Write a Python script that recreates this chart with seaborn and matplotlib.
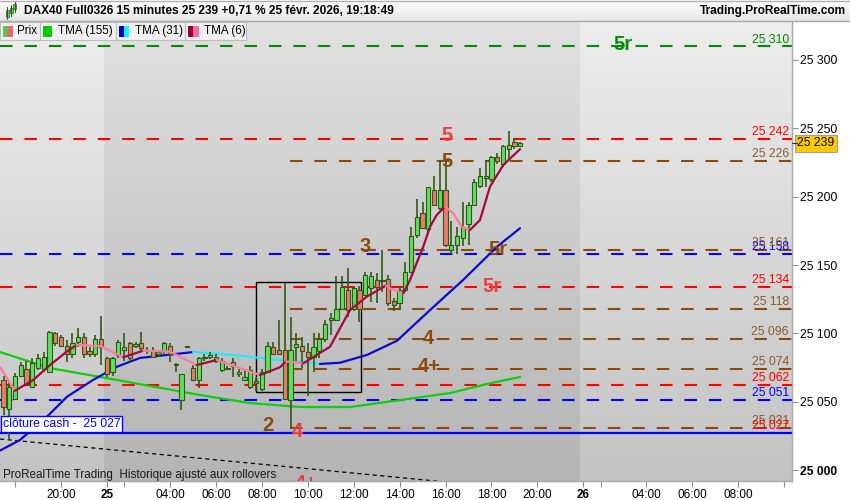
import numpy as np
import pandas as pd
import matplotlib
matplotlib.use("Agg")
import matplotlib.pyplot as plt
import matplotlib.colors as mcolors
import matplotlib.transforms as mtransforms
from matplotlib.patches import Rectangle
import seaborn as sns

# ---------------- data ----------------
bar_q = list(range(-10, 81))          # 15-minute bar index (trading time), 0 = 24 Feb 20:00
opens = [25066, 25045, 25052, 25069, 25074, 25061, 25075, 25074, 25072, 25100,
         25097, 25091, 25085, 25094, 25097, 25087, 25085, 25096,
         25082, 25072, 25084, 25088, 25093, 25091, 25093, 25088, 25088, 25085,
         25087, 25091, 25077, 25051, 25090, 25075, 25066, 25082, 25083, 25083,
         25073, 25074, 25079, 25070, 25066, 25061, 25065, 25059, 25072, 25090,
         25088, 25088, 25051, 25090, 25091, 25086, 25083, 25087, 25096, 25110,
         25110, 25118, 25132, 25118, 25132, 25128, 25133, 25139, 25138, 25140,
         25124, 25122, 25132, 25145, 25172, 25188, 25176, 25205, 25192, 25205,
         25161, 25165, 25170, 25180, 25194, 25208, 25214, 25213, 25229, 25224,
         25235, 25240, 25237]
highs = [25069, 25066, 25071, 25079, 25080, 25082, 25085, 25086, 25102, 25101,
         25099, 25095, 25100, 25104, 25100, 25090, 25099, 25113,
         25083, 25083, 25095, 25100, 25094, 25094, 25101, 25090, 25090, 25088,
         25094, 25093, 25078, 25070, 25091, 25077, 25083, 25085, 25086, 25085,
         25082, 25076, 25082, 25074, 25074, 25076, 25068, 25074, 25094, 25094,
         25110, 25137, 25112, 25100, 25097, 25093, 25100, 25100, 25110, 25115,
         25142, 25142, 25148, 25134, 25135, 25145, 25145, 25144, 25161, 25143,
         25126, 25135, 25152, 25178, 25198, 25196, 25207, 25215, 25227, 25227,
         25182, 25178, 25196, 25196, 25213, 25221, 25227, 25230, 25232, 25238,
         25248, 25243, 25240]
lows = [25040, 25022, 25051, 25068, 25062, 25060, 25073, 25072, 25071, 25091,
        25090, 25079, 25082, 25090, 25082, 25083, 25083, 25077,
        25068, 25069, 25082, 25080, 25078, 25089, 25086, 25085, 25082, 25083,
        25084, 25079, 25072, 25044, 25089, 25065, 25060, 25080, 25081, 25078,
        25072, 25073, 25068, 25068, 25065, 25059, 25058, 25058, 25071, 25085,
        25084, 25052, 25031, 25080, 25075, 25054, 25072, 25082, 25094, 25099,
        25110, 25117, 25112, 25116, 25108, 25127, 25123, 25122, 25130, 25120,
        25116, 25117, 25130, 25144, 25170, 25176, 25174, 25193, 25190, 25163,
        25158, 25158, 25164, 25165, 25193, 25206, 25207, 25211, 25224, 25222,
        25227, 25235, 25236]
closes = [25046, 25061, 25069, 25077, 25063, 25078, 25082, 25083, 25101, 25093,
          25091, 25085, 25093, 25097, 25085, 25085, 25096, 25090,
          25070, 25082, 25094, 25090, 25082, 25092, 25089, 25087, 25083, 25086,
          25093, 25085, 25077, 25070, 25090, 25066, 25082, 25083, 25084, 25080,
          25080, 25074, 25076, 25072, 25068, 25073, 25064, 25072, 25091, 25085,
          25085, 25052, 25088, 25092, 25087, 25083, 25090, 25096, 25107, 25111,
          25118, 25134, 25117, 25133, 25118, 25143, 25142, 25134, 25139, 25122,
          25121, 25132, 25145, 25171, 25185, 25177, 25207, 25194, 25205, 25165,
          25165, 25171, 25178, 25194, 25211, 25215, 25215, 25229, 25226, 25237,
          25238, 25237, 25239]

tma155_q = [-10.61, -1.9, 6.8, 15.5, 24.2, 32.9, 41.7, 50.4, 59.1, 67.8, 73.5, 76.5, 80.0]
tma155_v = [25086.3, 25074.6, 25068.1, 25061.5, 25054.9, 25049.0, 25046.1, 25046.1, 25051.2,
            25056.3, 25062.2, 25065.0, 25068.1]

tma31_q = [-10.61, -7.12, -2.42, 1.06, 5.59, 9.77, 13.78, 18.48, 23.01, 29.98, 38.17, 45.13,
           48.62, 53.32, 58.55, 64.29, 70.04, 75.96, 79.97]
tma31_v = [25014.2, 25022.0, 25039.0, 25053.6, 25065.9, 25075.6, 25082.0, 25084.2, 25086.3,
           25084.2, 25080.5, 25077.6, 25078.5, 25084.2, 25094.6, 25117.0, 25139.0, 25163.4, 25176.9]

tma6_q = [-10.61, -8.0, -4.81, -1.9, 1.01, 2.75, 6.81, 10.87, 14.35, 19.0, 23.65, 27.14, 34.68,
          38.17, 39.2, 42.2, 46.87, 50.36, 53.27, 56.6, 57.3, 59.64, 60.81, 61.98, 63.12, 64.3,
          65.46, 66.9, 68.35, 69.81, 71.26, 73.0, 74.74, 77.06, 79.97]
tma6_v = [25075.2, 25058.0, 25065.9, 25076.8, 25086.6, 25091.5, 25090.7, 25082.5, 25087.3,
          25086.6, 25076.8, 25080.5, 25069.5, 25075.2, 25079.5, 25078.0, 25090.2, 25117.1,
          25126.8, 25135.0, 25133.0, 25129.3, 25139.0, 25151.5, 25163.4, 25178.0, 25186.6,
          25192.7, 25187.8, 25178.0, 25175.6, 25182.9, 25207.3, 25223.2, 25234.7]

full_levels = [25310, 25242, 25158, 25134, 25062, 25051]
full_level_kind = ["green", "red", "blue", "red", "red", "blue"]
brown_levels = [25226, 25161, 25118, 25096, 25074, 25031]
brown_start_q = 39.9
extra_label_levels = [25027]
cash_close = 25027
last_price = 25239

trend_q = [-10.61, 63.4]
trend_v = [25022.7, 24992.7]
box_q = [33.98, 52.19]
box_v = [25057.4, 25137.4]

marks_text = ["2", "4", "3", "5r", "5r", "4", "4+", "5", "5", "5r", "4+"]
marks_q = [35.99, 41.1, 52.97, 76.05, 75.09, 63.94, 64.1, 67.17, 67.17, 97.9, 42.7]
marks_v = [25032.6, 25028.5, 25163.5, 25161.7, 25134.6, 25095.9, 25075.7, 25244.4, 25225.4,
           25311.0, 24990.0]
marks_kind = ["brown", "redtxt", "brown", "brown", "redtxt", "brown", "brown", "redtxt",
              "brown", "greentxt", "redtxt"]

y_ticks = [25000, 25050, 25100, 25150, 25200, 25250, 25300]
x_ticks_q = [-8, 0, 8, 11, 19, 27, 35, 43, 51, 59, 67, 75, 83, 91, 94, 102, 110, 118, 126]
x_tick_labels = ["", "20:00", "25", "", "04:00", "06:00", "08:00", "10:00", "12:00", "14:00",
                 "16:00", "18:00", "20:00", "26", "", "04:00", "06:00", "08:00", ""]
day_breaks_q = [7.5, 90.5]

title = "DAX40 Full0326 15 minutes 25 239 +0,71 % 25 févr. 2026, 19:18:49"
site = "Trading.ProRealTime.com"
legend_names = ["Prix", "TMA (155)", "TMA (31)", "TMA (6)"]
footer = "ProRealTime Trading  Historique ajusté aux rollovers"
cash_label = "clôture cash -  25 027"

# ---------------- style ----------------
sns.set_theme(style="white")
plt.rcParams["font.family"] = ["Liberation Sans", "DejaVu Sans"]
plt.rcParams["lines.scale_dashes"] = False

COL = {"green": "#008a00", "red": "#ff0000", "blue": "#0000ff", "brown": "#8b4a0c",
       "redtxt": "#f03c3c", "greentxt": "#078a07"}
LABEL_COL = {"green": "#008a00", "red": "#ff0000", "blue": "#0000ff", "brown": "#8b5a2b"}

W, H = 850, 500
fig = plt.figure(figsize=(W / 100, H / 100), dpi=100, facecolor="white")


def fx(px):
    return px / W


def fy(py):
    return 1 - py / H


ax = fig.add_axes([0, fy(481), fx(792), (481 - 22) / H])
XMIN, XMAX = -10.61, 127.35
YMIN, YMAX = 24991.96, 25327.8


def vgrad(top, bot, n=200):
    t = np.linspace(0, 1, n)[:, None, None]
    a = np.array(mcolors.to_rgb(top))[None, None, :]
    b = np.array(mcolors.to_rgb(bot))[None, None, :]
    return a * (1 - t) + b * t


light = vgrad("#ededed", "#c3c3c3")
dark = vgrad("#e1e1e1", "#b4b4b4")
edges = [XMIN] + day_breaks_q + [XMAX]
for i in range(len(edges) - 1):
    ax.imshow(light if i % 2 == 0 else dark, extent=[edges[i], edges[i + 1], YMIN, YMAX],
              aspect="auto", origin="upper", zorder=0, interpolation="bilinear")

DASH = (0, (9, 8.6))
for lvl, kind in zip(full_levels, full_level_kind):
    ax.hlines(lvl, XMIN, XMAX, colors=COL[kind], linestyles=[DASH], lw=1.5, zorder=1.5)
for lvl in brown_levels:
    ax.hlines(lvl, brown_start_q, XMAX, colors=COL["brown"], linestyles=[DASH], lw=1.5, zorder=1.5)
ax.axhline(cash_close, color="#0000ff", lw=1.6, zorder=1.6)

# trend line
slope = (trend_v[1] - trend_v[0]) / (trend_q[1] - trend_q[0])
tq = np.array([trend_q[0], trend_q[1] + 10])
ax.plot(tq, trend_v[0] + slope * (tq - trend_q[0]), color="black", lw=0.9,
        ls=(0, (3, 2.5)), zorder=1.7)

# box
ax.add_patch(Rectangle((box_q[0], box_v[0]), box_q[1] - box_q[0], box_v[1] - box_v[0],
                       fill=False, ec="black", lw=1.0, zorder=2))

# moving averages
sns.lineplot(x=tma155_q, y=tma155_v, ax=ax, color="#11cc11", lw=1.6, sort=False,
             estimator=None, zorder=2.5)


def dir_line(qs, vs, up_col, dn_col, lw, z):
    qs = np.asarray(qs, float)
    vs = np.asarray(vs, float)
    d = np.sign(np.diff(vs))
    for i in range(1, len(d)):
        if d[i] == 0:
            d[i] = d[i - 1]
    start = 0
    for i in range(1, len(d) + 1):
        if i == len(d) or d[i] != d[start]:
            sl = slice(start, i + 1)
            sns.lineplot(x=qs[sl], y=vs[sl], ax=ax, color=up_col if d[start] > 0 else dn_col,
                         lw=lw, sort=False, estimator=None, zorder=z)
            start = i


dir_line(tma31_q, tma31_v, "#0a0ad0", "#22e8ff", 1.6, 2.6)

# candles
df = pd.DataFrame({"q": bar_q, "o": opens, "h": highs, "l": lows, "c": closes})
up = df.c >= df.o
ax.vlines(df.q, df.l, df.h, color="#2f5a14", lw=1.2, zorder=3)
bot = np.minimum(df.o, df.c)
hgt = np.maximum((df.c - df.o).abs(), 0.5)
ax.bar(df.q, hgt, bottom=bot, width=0.74, color=np.where(up, "#5ee05e", "#ec7a70"),
       edgecolor="#2f5a14", linewidth=0.8, zorder=3.2)

dir_line(tma6_q, tma6_v, "#a0083e", "#ff7a9c", 1.6, 3.5)

# level labels
lab_x = 126.8
for lvl, kind in zip(full_levels, full_level_kind):
    ax.text(lab_x, lvl + 0.6, f"{lvl:,}".replace(",", " "), color=LABEL_COL[kind], fontsize=8.8,
            ha="right", va="bottom", zorder=4)
for lvl in brown_levels:
    ax.text(lab_x, lvl + 0.6, f"{lvl:,}".replace(",", " "), color=LABEL_COL["brown"], fontsize=8.8,
            ha="right", va="bottom", zorder=4)
for lvl in extra_label_levels:
    ax.text(lab_x, lvl + 0.6, f"{lvl:,}".replace(",", " "), color="#ff0000", fontsize=8.8,
            ha="right", va="bottom", zorder=4)

# wave marks
for t, q, v, k in zip(marks_text, marks_q, marks_v, marks_kind):
    ax.text(q, v, t, color=COL[k], fontsize=14.5, fontweight="bold", ha="center", va="center",
            zorder=4.5, clip_on=True)

# cash close label
bl = mtransforms.blended_transform_factory(ax.transAxes, ax.transData)
ax.text(3 / 792, cash_close + 2.2, cash_label, transform=bl, color="#0000ff", fontsize=8.8,
        ha="left", va="bottom", zorder=6,
        bbox=dict(boxstyle="square,pad=0.15", fc="white", ec="#0000ff", lw=1.0))

ax.text(3 / 792, 6 / 459, footer, transform=ax.transAxes, color="#1a1a1a", fontsize=8.4,
        ha="left", va="center", zorder=6)

# axes formatting
ax.set_xlim(XMIN, XMAX)
ax.set_ylim(YMIN, YMAX)
ax.yaxis.tick_right()
ax.set_yticks(y_ticks)
ax.set_yticklabels([f"{v:,}".replace(",", " ") for v in y_ticks])
ax.set_xticks(x_ticks_q)
ax.set_xticklabels(x_tick_labels)
ax.tick_params(axis="y", which="both", right=True, left=False, length=4, width=0.8,
               color="#909090", pad=2, labelsize=8.7, labelcolor="black")
ax.tick_params(axis="x", which="both", bottom=True, length=4, width=0.8, color="#909090",
               pad=2, labelsize=8.5, labelcolor="black")
for lab in ax.get_xticklabels():
    if lab.get_text() in ("25", "26"):
        lab.set_fontweight("bold")
for lab in ax.get_yticklabels():
    if lab.get_text() == "25 000":
        lab.set_fontweight("bold")
ax.set_xlabel("")
ax.set_ylabel("")
for s in ("top", "left"):
    ax.spines[s].set_visible(False)
for s in ("right", "bottom"):
    ax.spines[s].set_color("#a8a8a8")
    ax.spines[s].set_linewidth(1.0)
ax.grid(False)

# last price tag
ax.text(1.0068, last_price, f"{last_price:,}".replace(",", " "), transform=bl, fontsize=8.7,
        ha="left", va="center", color="black", zorder=7, clip_on=False,
        bbox=dict(boxstyle="square,pad=0.18", fc="#ffc800", ec="#a0a0a0", lw=0.8))
ax.plot([1.0, 1.006], [last_price, last_price], transform=bl, color="#303030", lw=0.9,
        clip_on=False, zorder=7)

# ---------------- header ----------------
hax = fig.add_axes([0, fy(21), 1, 21 / H])
hax.imshow(vgrad("#ffffff", "#e6e6e6"), extent=[0, 1, 0, 1], aspect="auto", origin="upper")
hax.set_axis_off()
fig.add_artist(plt.Line2D([0, 1], [fy(21), fy(21)], transform=fig.transFigure,
                          color="#a8a8a8", lw=1.0))
fig.add_artist(plt.Line2D([0, 1], [fy(0.5), fy(0.5)], transform=fig.transFigure,
                          color="#b0b0b0", lw=1.0))
fig.text(fx(24), fy(11), title, fontsize=8.6, fontweight="bold", ha="left", va="center",
         color="black")
fig.text(fx(846), fy(11), site, fontsize=8.6, fontweight="bold", ha="right", va="center",
         color="black")
# small candle icon
for cx, y0, y1, b0, b1 in [(7, 7, 19, 10, 17), (11, 5, 16, 8, 13), (15, 2, 12, 4, 9)]:
    fig.add_artist(plt.Line2D([fx(cx), fx(cx)], [fy(y1), fy(y0)], transform=fig.transFigure,
                              color="#2f5a14", lw=0.8))
    fig.add_artist(Rectangle((fx(cx - 1.5), fy(b1)), fx(3), b1 / H - b0 / H,
                             transform=fig.transFigure, fc="#5ee05e", ec="#2f5a14", lw=0.5))

# legend row
boxes = [(0, 39.5), (39.5, 115.5), (115.5, 184.5), (184.5, 246)]
swatches = [[("#4ccd4c", 2.7, 7.3), ("#e86a6a", 7.3, 12.7)],
            [("#00cc00", 43.3, 51.7)],
            [("#0000cc", 119, 124.2), ("#00ffff", 124.2, 129.3)],
            [("#990033", 187.7, 193.3), ("#ff6b9a", 193.3, 199)]]
text_x = [17, 58.3, 134.7, 203.7]
for (x0, x1), sw, tx, name in zip(boxes, swatches, text_x, legend_names):
    fig.add_artist(Rectangle((fx(x0), fy(40)), fx(x1 - x0), 18 / H, transform=fig.transFigure,
                             fc="#f0f0f0", ec="#bdbdbd", lw=0.8, zorder=8))
    for c, a, b in sw:
        fig.add_artist(Rectangle((fx(a), fy(36.5)), fx(b - a), 10.5 / H,
                                 transform=fig.transFigure, fc=c, ec="none", zorder=9))
    fig.text(fx(tx), fy(31.3), name, fontsize=8.4, ha="left", va="center", color="black",
             zorder=10)

fig.savefig("out.png", dpi=100, facecolor="white")
